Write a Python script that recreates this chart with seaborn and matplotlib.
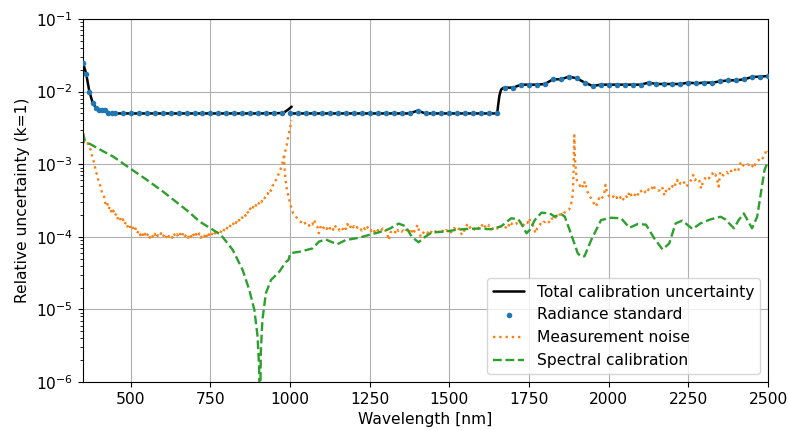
import matplotlib
matplotlib.use("Agg")
import matplotlib.pyplot as plt
import seaborn as sns
import pandas as pd

# ---------------- data ----------------
rad_wl = [350, 360, 370, 380, 390, 400, 410, 420, 430, 440, 450,
          475, 500, 525, 550, 575, 600, 625, 650, 675, 700, 725, 750, 775, 800,
          825, 850, 875, 900, 925, 950, 975, 1000, 1025, 1050, 1075, 1100, 1125,
          1150, 1175, 1200, 1225, 1250, 1275, 1300, 1325, 1350, 1375, 1400, 1425,
          1450, 1475, 1500, 1525, 1550, 1575, 1600, 1625, 1650, 1675, 1700, 1725,
          1750, 1775, 1800, 1825, 1850, 1875, 1900, 1925, 1950, 1975, 2000, 2025,
          2050, 2075, 2100, 2125, 2150, 2175, 2200, 2225, 2250, 2275, 2300, 2325,
          2350, 2375, 2400, 2425, 2450, 2475, 2500]
rad_val = [0.0245, 0.0175, 0.0099, 0.0070, 0.0059, 0.0056, 0.0055, 0.0055, 0.0051, 0.0050, 0.0050,
           0.005, 0.005, 0.005, 0.005, 0.005, 0.005, 0.005, 0.005, 0.005, 0.005, 0.005, 0.005, 0.005, 0.005,
           0.005, 0.005, 0.005, 0.005, 0.005, 0.005, 0.005, 0.005, 0.005, 0.005, 0.005, 0.005, 0.005,
           0.005, 0.005, 0.005, 0.005, 0.005, 0.005, 0.005, 0.005, 0.005, 0.005, 0.00546, 0.005,
           0.005, 0.005, 0.005, 0.005, 0.005, 0.005, 0.005, 0.005, 0.005, 0.01133, 0.01133, 0.01246,
           0.01246, 0.01246, 0.01273, 0.01477, 0.01477, 0.01606, 0.01524, 0.01328, 0.01194, 0.01246, 0.01246, 0.01246,
           0.01246, 0.01246, 0.01246, 0.01328, 0.01273, 0.01273, 0.01273, 0.01273, 0.01328, 0.0130, 0.01328, 0.01328,
           0.01385, 0.01428, 0.01428, 0.01477, 0.0159, 0.01606, 0.0164]

total_vnir_wl = [350, 360, 370, 380, 390, 400, 410, 420, 430, 440, 450, 500, 600, 700,
                 800, 900, 950, 975, 985, 995, 1005]
total_vnir_val = [0.0250, 0.0176, 0.0100, 0.0071, 0.0060, 0.0056, 0.0055, 0.0055, 0.0051, 0.0050,
                  0.0050, 0.0050, 0.0050, 0.0050, 0.0050, 0.0050, 0.00502, 0.00508, 0.0053, 0.0057, 0.0062]

total_swir_wl = [1005, 1375, 1400, 1425, 1650, 1653, 1657, 1662, 1668, 1675, 1700, 1725,
                 1750, 1775, 1800, 1825, 1850, 1875, 1900, 1925, 1950, 1975, 2000, 2025,
                 2050, 2075, 2100, 2125, 2150, 2175, 2200, 2225, 2250, 2275, 2300, 2325,
                 2350, 2375, 2400, 2425, 2450, 2475, 2500]
total_swir_val = [0.005, 0.005, 0.00546, 0.005, 0.005, 0.0065, 0.0088, 0.0106, 0.0112, 0.01133, 0.01133, 0.01246,
                  0.01246, 0.01246, 0.01273, 0.01477, 0.01477, 0.01606, 0.01524, 0.01328, 0.01194, 0.01246, 0.01246, 0.01246,
                  0.01246, 0.01246, 0.01246, 0.01328, 0.01273, 0.01273, 0.01273, 0.01273, 0.01328, 0.0130, 0.01328, 0.01328,
                  0.01385, 0.01428, 0.01428, 0.01477, 0.0159, 0.01606, 0.0164]

# measurement noise, in units of 1e-4
noise_vnir_wl = [350, 355, 360, 365, 370, 375, 380, 385, 390, 395, 400, 405, 410, 415, 420, 425, 430, 435, 440, 445,
                 450, 455, 460, 465, 470, 475, 480, 485, 490, 495, 500, 505, 510, 515, 520, 525, 530, 535, 540, 545,
                 550, 555, 560, 565, 570, 575, 580, 585, 590, 595, 600, 605, 610, 615, 620, 625, 630, 635, 640, 645,
                 650, 655, 660, 665, 670, 675, 680, 685, 690, 695, 700, 705, 710, 715, 720, 725, 730, 735, 740, 745,
                 750, 755, 760, 765, 770, 775, 780, 785, 790, 795, 800, 805, 810, 815, 820, 825, 830, 835, 840, 845,
                 850, 855, 860, 865, 870, 875, 880, 885, 890, 895, 900, 905, 910, 915, 920, 925, 930, 935, 940, 945,
                 950, 955, 960, 965, 970, 975, 980, 985, 990, 995, 1000, 1005]
noise_vnir_e4 = [20.5, 19.0, 18.5, 19.5, 17.0, 15.5, 12.0, 10.5, 8.0, 7.0, 5.4, 5.0, 4.0, 3.8, 2.9, 3.1, 2.4, 2.6, 2.1, 2.3,
                 1.95, 2.1, 1.72, 1.85, 1.62, 1.75, 1.48, 1.6, 1.38, 1.5, 1.3, 1.4, 1.2, 1.3, 1.12, 1.22, 1.05, 1.15, 0.98, 1.1,
                 1.0, 1.12, 0.97, 1.08, 0.98, 1.1, 0.96, 1.05, 1.0, 1.12, 0.99, 1.07, 0.96, 1.1, 1.0, 1.06, 0.97, 1.12, 1.0, 1.08,
                 0.98, 1.1, 1.0, 1.14, 1.02, 1.08, 0.97, 1.1, 1.0, 1.12, 0.98, 1.09, 1.0, 1.11, 0.97, 1.06, 0.99, 1.13, 0.96, 1.08,
                 1.0, 1.1, 1.02, 1.15, 1.06, 1.18, 1.1, 1.25, 1.18, 1.32, 1.25, 1.42, 1.35, 1.52, 1.45, 1.65, 1.55, 1.78, 1.68, 1.9,
                 1.82, 2.05, 1.95, 2.25, 2.1, 2.45, 2.3, 2.65, 2.5, 2.9, 2.75, 3.15, 3.0, 3.5, 3.4, 3.9, 3.9, 4.5, 4.3, 5.1,
                 5.2, 6.0, 6.5, 7.6, 8.5, 10.0, 12.0, 15.0, 19.0, 25.0, 32.0, 40.0]

noise_swir_wl = [980, 985, 990, 995,
                 1000, 1005, 1010, 1015, 1020, 1025, 1030, 1035, 1040, 1045, 1050, 1055, 1060, 1065, 1070, 1075, 1080, 1085, 1090, 1095,
                 1100, 1105, 1110, 1115, 1120, 1125, 1130, 1135, 1140, 1145, 1150, 1155, 1160, 1165, 1170, 1175, 1180, 1185, 1190, 1195,
                 1200, 1205, 1210, 1215, 1220, 1225, 1230, 1235, 1240, 1245, 1250, 1255, 1260, 1265, 1270, 1275, 1280, 1285, 1290, 1295,
                 1300, 1305, 1310, 1315, 1320, 1325, 1330, 1335, 1340, 1345, 1350, 1355, 1360, 1365, 1370, 1375, 1380, 1385, 1390, 1395,
                 1400, 1405, 1410, 1415, 1420, 1425, 1430, 1435, 1440, 1445, 1450, 1455, 1460, 1465, 1470, 1475, 1480, 1485, 1490, 1495,
                 1500, 1505, 1510, 1515, 1520, 1525, 1530, 1535, 1540, 1545, 1550, 1555, 1560, 1565, 1570, 1575, 1580, 1585, 1590, 1595,
                 1600, 1605, 1610, 1615, 1620, 1625, 1630, 1635, 1640, 1645, 1650, 1655, 1660, 1665, 1670, 1675, 1680, 1685, 1690, 1695,
                 1700, 1705, 1710, 1715, 1720, 1725, 1730, 1735, 1740, 1745, 1750, 1755, 1760, 1765, 1770, 1775, 1780, 1785, 1790, 1795,
                 1800, 1805, 1810, 1815, 1820, 1825, 1830, 1835, 1840, 1845, 1850, 1855, 1860, 1865, 1870, 1875,
                 1880, 1885, 1888, 1890, 1892, 1894, 1897, 1900,
                 1905, 1910, 1915, 1920, 1925, 1930, 1935, 1940, 1945, 1950, 1955, 1960, 1965, 1970, 1975, 1980, 1985, 1990, 1995,
                 2000, 2005, 2010, 2015, 2020, 2025, 2030, 2035, 2040, 2045, 2050, 2055, 2060, 2065, 2070, 2075, 2080, 2085, 2090, 2095,
                 2100, 2105, 2110, 2115, 2120, 2125, 2130, 2135, 2140, 2145, 2150, 2155, 2160, 2165, 2170, 2175, 2180, 2185, 2190, 2195,
                 2200, 2205, 2210, 2215, 2220, 2225, 2230, 2235, 2240, 2245, 2250, 2255, 2260, 2265, 2270, 2275, 2280, 2285, 2290, 2295,
                 2300, 2305, 2310, 2315, 2320, 2325, 2330, 2335, 2340, 2345, 2350, 2355, 2360, 2365, 2370, 2375, 2380, 2385, 2390, 2395,
                 2400, 2405, 2410, 2415, 2420, 2425, 2430, 2435, 2440, 2445, 2450, 2455, 2460, 2465, 2470, 2475, 2480, 2485, 2490, 2495, 2500]
noise_swir_e4 = [13.0, 6.5, 4.4, 3.6,
                 2.9, 2.4, 2.1, 2.0, 1.85, 1.75, 1.65, 1.58, 1.52, 1.6, 1.45, 1.5, 1.42, 1.55, 1.48, 1.72, 1.5, 1.4, 1.12, 1.35,
                 1.46, 1.32, 1.4, 1.28, 1.42, 1.3, 1.38, 1.25, 1.45, 1.32, 1.36, 1.22, 1.32, 1.27, 1.4, 1.28, 1.5, 1.3, 1.38, 1.26,
                 1.4, 1.3, 1.36, 1.25, 1.3, 1.22, 1.35, 1.28, 1.42, 1.3, 1.34, 1.2, 1.28, 1.18, 1.3, 1.22, 1.27, 1.2, 1.3, 1.18,
                 1.22, 1.1, 0.9, 1.15, 1.2, 1.24, 1.15, 1.3, 1.2, 1.25, 1.18, 1.22, 1.15, 1.25, 1.12, 1.2, 1.1, 1.3, 1.18, 1.28,
                 1.46, 1.2, 1.0, 1.12, 1.15, 1.2, 1.12, 1.18, 1.1, 1.22, 1.2, 1.15, 1.28, 1.18, 1.12, 1.22, 1.2, 1.15, 1.24, 1.18,
                 1.24, 1.15, 1.2, 1.32, 1.25, 1.2, 1.3, 1.15, 1.06, 1.2, 1.25, 1.46, 1.3, 1.35, 1.27, 1.22, 1.3, 1.35, 1.28, 1.4,
                 1.35, 1.54, 1.4, 1.35, 1.3, 1.46, 1.38, 1.3, 1.28, 1.35, 1.3, 1.45, 1.38, 1.4, 1.32, 1.3, 1.45, 1.38, 1.6, 1.5,
                 1.55, 1.48, 1.54, 1.5, 1.65, 1.55, 1.4, 1.5, 1.6, 1.55, 1.8, 1.6, 1.5, 1.35, 1.12, 1.3, 1.4, 1.5, 1.45, 1.6,
                 1.6, 1.7, 1.65, 1.55, 1.75, 1.8, 1.7, 1.9, 1.85, 2.0, 2.05, 2.0, 2.15, 2.2, 2.3, 2.35,
                 2.6, 3.2, 4.5, 9.0, 25.0, 12.0, 8.3, 6.0,
                 5.6, 5.0, 5.4, 4.8, 5.8, 4.6, 4.0, 3.6, 3.4, 3.1, 2.8, 2.6, 3.0, 3.4, 3.2, 3.5, 3.7, 5.2, 4.0,
                 3.7, 3.4, 3.5, 3.6, 3.3, 3.5, 3.2, 3.4, 3.7, 3.3, 3.2, 3.6, 3.4, 4.2, 3.8, 3.5, 3.6, 4.0, 3.7, 4.1,
                 4.4, 4.0, 3.9, 4.2, 4.0, 4.5, 4.3, 4.6, 5.2, 4.6, 4.5, 4.3, 4.4, 4.9, 4.6, 3.7, 4.3, 4.1, 4.6, 4.4,
                 5.0, 4.7, 5.4, 6.1, 5.2, 5.5, 5.4, 5.8, 5.2, 4.9, 5.5, 5.7, 6.2, 7.1, 6.0, 6.3, 6.4, 5.8, 4.6, 5.6,
                 6.0, 6.8, 6.5, 6.4, 7.0, 7.5, 6.8, 7.2, 6.2, 4.9, 7.9, 7.3, 7.0, 7.5, 7.8, 7.5, 8.3, 8.0, 8.8, 8.5,
                 8.0, 7.8, 9.2, 10.8, 9.8, 9.5, 9.3, 9.9, 9.8, 10.3, 9.6, 8.8, 10.0, 10.8, 11.5, 11.0, 11.2, 12.5, 13.5, 16.0, 15.0]

spec_wl = [350, 356, 365, 372, 400, 445, 497, 550, 601, 650, 684, 716, 768, 783, 820, 851,
           872, 888, 898, 903, 905, 908, 913, 924, 940, 966, 987, 995, 1000, 1005, 1028, 1070,
           1091, 1112, 1127, 1148, 1174, 1216, 1247, 1278, 1309, 1341, 1362, 1382, 1403, 1424,
           1445, 1487, 1518, 1549, 1591, 1632, 1663, 1694, 1716, 1726, 1742, 1752, 1768, 1789,
           1815, 1830, 1851, 1862, 1883, 1903, 1915, 1924, 1945, 1976, 2007, 2039, 2065, 2091,
           2117, 2143, 2169, 2190, 2210, 2231, 2263, 2288, 2320, 2351, 2366, 2393, 2408, 2424,
           2450, 2466, 2476, 2489, 2500]
spec_val = [2.7e-3, 2.1e-3, 1.95e-3, 1.9e-3, 1.62e-3, 1.27e-3, 8.8e-4, 6.1e-4, 4.2e-4, 2.85e-4,
            2.17e-4, 1.62e-4, 1.17e-4, 1.06e-4, 6.6e-5, 3.5e-5, 1.85e-5, 9.8e-6, 4.2e-6, 1.5e-6,
            1e-7, 2.5e-6, 7.1e-6, 1.67e-5, 2.54e-5, 3.3e-5, 4.5e-5, 4.8e-5, 5.8e-5, 6.0e-5,
            6.2e-5, 6.9e-5, 8.6e-5, 9.2e-5, 8.6e-5, 7.9e-5, 9.0e-5, 9.7e-5, 1.06e-4, 1.15e-4,
            1.27e-4, 1.52e-4, 1.4e-4, 1.0e-4, 8.4e-5, 1.0e-4, 1.15e-4, 1.18e-4, 1.24e-4, 1.28e-4,
            1.3e-4, 1.27e-4, 1.4e-4, 1.8e-4, 1.75e-4, 1.5e-4, 1.12e-4, 1.24e-4, 1.7e-4, 2.15e-4,
            2.1e-4, 1.9e-4, 2.05e-4, 1.9e-4, 1.06e-4, 5.9e-5, 5.3e-5, 5.4e-5, 9.0e-5, 1.7e-4,
            1.83e-4, 1.8e-4, 1.33e-4, 1.5e-4, 1.47e-4, 9.5e-5, 6.7e-5, 8.1e-5, 1.53e-4, 1.67e-4,
            1.28e-4, 1.53e-4, 1.74e-4, 1.89e-4, 1.74e-4, 1.31e-4, 1.7e-4, 2.1e-4, 1.31e-4, 1.89e-4,
            3.6e-4, 8.3e-4, 1.1e-3]

x_ticks = [500, 750, 1000, 1250, 1500, 1750, 2000, 2250, 2500]

# ---------------- plot ----------------
FS = 11.2
sns.set_theme(style="ticks", rc={
    "xtick.major.size": 3.5, "ytick.major.size": 3.5,
    "xtick.minor.size": 2.0, "ytick.minor.size": 2.0,
    "xtick.major.width": 0.8, "ytick.major.width": 0.8,
    "xtick.minor.width": 0.6, "ytick.minor.width": 0.6,
    "axes.linewidth": 0.8, "axes.edgecolor": "black",
    "xtick.color": "black", "ytick.color": "black",
    "axes.labelcolor": "black", "text.color": "black",
})
plt.rcParams["font.family"] = ["DejaVu Sans"]
plt.rcParams["font.size"] = FS

fig = plt.figure(figsize=(7.88, 4.30), dpi=100)
ax = fig.add_axes([83 / 788, 1 - 382 / 430, (768 - 83) / 788, (382 - 19) / 430])

tv = pd.DataFrame({"wl": total_vnir_wl, "u": total_vnir_val})
ts = pd.DataFrame({"wl": total_swir_wl, "u": total_swir_val})
rd = pd.DataFrame({"wl": rad_wl, "u": rad_val})
nv = pd.DataFrame({"wl": noise_vnir_wl, "u": [v * 1e-4 for v in noise_vnir_e4]})
ns = pd.DataFrame({"wl": noise_swir_wl, "u": [v * 1e-4 for v in noise_swir_e4]})
sp = pd.DataFrame({"wl": spec_wl, "u": spec_val})

sns.lineplot(data=tv, x="wl", y="u", ax=ax, color="black", lw=1.8,
             label="Total calibration uncertainty", errorbar=None)
sns.lineplot(data=ts, x="wl", y="u", ax=ax, color="black", lw=1.8, errorbar=None)
sns.scatterplot(data=rd, x="wl", y="u", ax=ax, color="#1f77b4", s=16, linewidth=0,
                label="Radiance standard", zorder=3)
sns.lineplot(data=nv, x="wl", y="u", ax=ax, color="#ff7f0e", lw=1.7, ls=":",
             label="Measurement noise", errorbar=None)
sns.lineplot(data=ns, x="wl", y="u", ax=ax, color="#ff7f0e", lw=1.7, ls=":", errorbar=None)
sns.lineplot(data=sp, x="wl", y="u", ax=ax, color="#2ca02c", lw=1.7, ls="--",
             label="Spectral calibration", errorbar=None)

ax.set_yscale("log")
ax.set_xlim(350, 2500)
ax.set_ylim(1e-6, 1e-1)
ax.set_xticks(x_ticks)
ax.grid(True, which="major", color="#b0b0b0", lw=0.8)
ax.set_xlabel("Wavelength [nm]", fontsize=FS)
ax.set_ylabel("Relative uncertainty (k=1)", fontsize=FS)
ax.tick_params(labelsize=FS)
for s in ax.spines.values():
    s.set_visible(True)

ax.legend(loc="lower right", fontsize=FS, framealpha=0.8)
fig.savefig("out.png", dpi=100)
